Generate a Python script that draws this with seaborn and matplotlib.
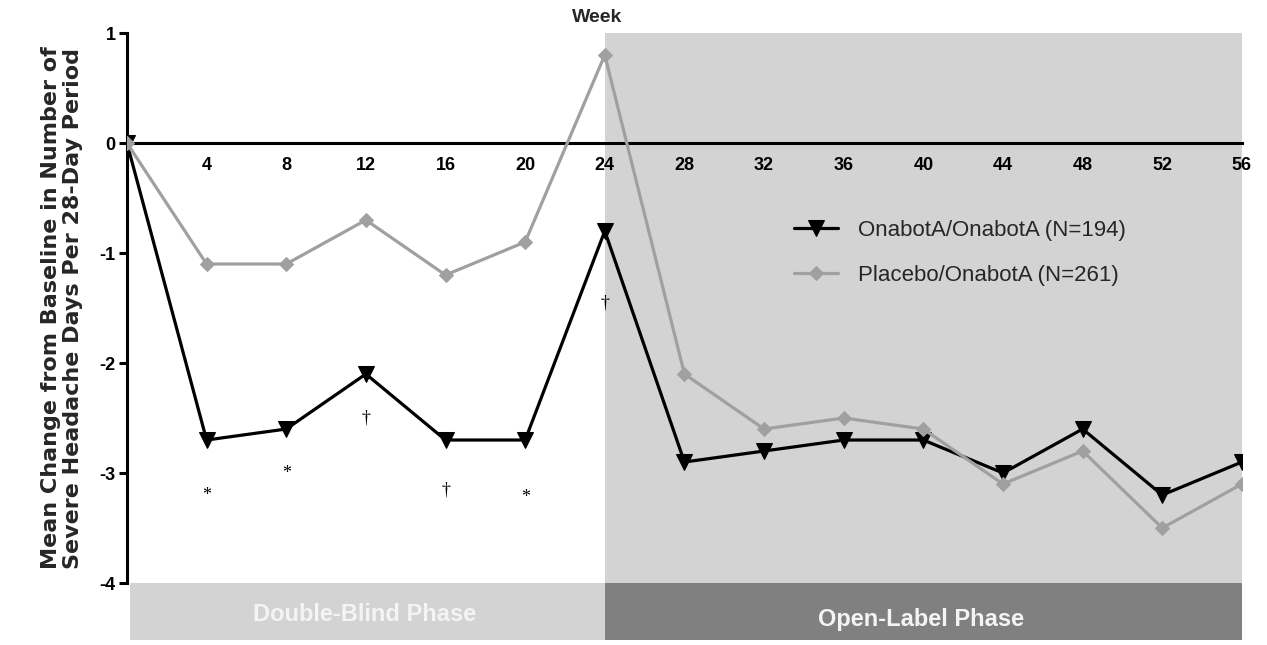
import pandas as pd
import seaborn as sns
import matplotlib.pyplot as plt
from matplotlib.patches import Rectangle

sns.set_theme(style="white")
plt.rcParams['font.family'] = ['Liberation Sans', 'DejaVu Sans']

weeks = [0, 4, 8, 12, 16, 20, 24, 28, 32, 36, 40, 44, 48, 52, 56]
onabot = [0, -2.7, -2.6, -2.1, -2.7, -2.7, -0.8, -2.9, -2.8, -2.7, -2.7, -3.0, -2.6, -3.2, -2.9]
placebo = [0, -1.1, -1.1, -0.7, -1.2, -0.9, 0.8, -2.1, -2.6, -2.5, -2.6, -3.1, -2.8, -3.5, -3.1]
labels = ["OnabotA/OnabotA (N=194)", "Placebo/OnabotA (N=261)"]

# significance marks below the double-blind points
sig_weeks = [4, 8, 12, 16, 20, 24]
sig_y = [-3.2, -3.0, -2.5, -3.15, -3.22, -1.45]
sig_marks = ["*", "*", "†", "†", "*", "†"]

x_ticks = [4, 8, 12, 16, 20, 24, 28, 32, 36, 40, 44, 48, 52, 56]
y_ticks = [1, 0, -1, -2, -3, -4]

df = pd.DataFrame({
    "week": weeks * 2,
    "change": onabot + placebo,
    "group": [labels[0]] * len(weeks) + [labels[1]] * len(weeks),
})

fig = plt.figure(figsize=(12.67, 6.45), dpi=100)
ax = fig.add_axes([0.1002, 0.0961, 0.8800, 0.8527])

ax.axvspan(24, 56, color="#d3d3d3", zorder=0, lw=0)

sns.lineplot(data=df[df.group == labels[0]], x="week", y="change", color="black",
             marker="v", markersize=11, markeredgecolor="black", lw=2.3,
             label=labels[0], ax=ax, zorder=3)
sns.lineplot(data=df[df.group == labels[1]], x="week", y="change", color="#a0a0a0",
             marker="D", markersize=7, markeredgecolor="#a0a0a0", lw=2.3,
             label=labels[1], ax=ax, zorder=4)

for xw, yv, m in zip(sig_weeks, sig_y, sig_marks):
    ax.text(xw, yv, m, ha="center", va="center", fontsize=13,
            family=["Liberation Serif", "DejaVu Serif"], color="black")

# spine position first, it resets the ticks
ax.spines["bottom"].set_position(("data", 0))
ax.spines["top"].set_visible(False)
ax.spines["right"].set_visible(False)
for s in ["left", "bottom"]:
    ax.spines[s].set_linewidth(2.2)
    ax.spines[s].set_color("black")

ax.set_xlim(0, 56)
ax.set_ylim(-4, 1)
ax.set_xticks(x_ticks)
ax.set_yticks(y_ticks)
ax.set_xticklabels([str(t) for t in x_ticks], fontweight="bold", fontsize=13)
ax.set_yticklabels([str(t) for t in y_ticks], fontweight="bold", fontsize=13)
ax.tick_params(axis="x", direction="in", length=7, width=2.2, pad=10, colors="black")
ax.tick_params(axis="y", direction="out", length=6, width=2.2, pad=2, colors="black", left=True)

ax.set_xlabel("")
ax.set_ylabel("Mean Change from Baseline in Number of\nSevere Headache Days Per 28-Day Period",
              fontweight="bold", fontsize=16, labelpad=12, linespacing=1.1,
              family=["DejaVu Sans"])
ax.text(23.6, 1.14, "Week", ha="center", va="center", fontweight="bold", fontsize=14)

# phase boxes under the axis
ax.add_patch(Rectangle((0.15, -4), 23.85, -0.52, color="#d3d3d3", clip_on=False, lw=0))
ax.add_patch(Rectangle((24, -4), 32, -0.52, color="#808080", clip_on=False, lw=0))
ax.text(11.95, -4.29, "Double-Blind Phase", ha="center", va="center", color="#f4f4f4",
        fontweight="bold", fontsize=17)
ax.text(39.9, -4.33, "Open-Label Phase", ha="center", va="center", color="#f4f4f4",
        fontweight="bold", fontsize=17)

ax.legend(loc="upper left", bbox_to_anchor=(0.58, 0.697), frameon=False, fontsize=16,
          handlelength=2.0, labelspacing=1.1, handletextpad=0.9)

fig.savefig("out.png", dpi=100)
